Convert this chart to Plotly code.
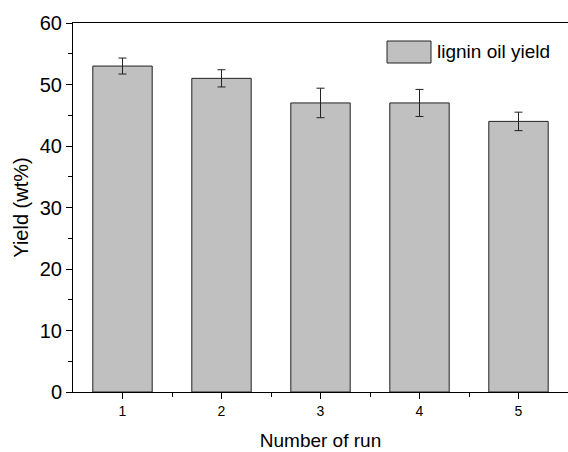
import plotly.graph_objects as go

runs = [1, 2, 3, 4, 5]
yields = [53.0, 51.0, 47.0, 47.0, 44.0]
errors = [1.3, 1.4, 2.4, 2.2, 1.5]
series_name = "lignin oil yield"
y_ticks = [0, 10, 20, 30, 40, 50, 60]

FONT = "Liberation Sans, Arial, sans-serif"

fig = go.Figure()
fig.add_trace(go.Bar(
    x=runs, y=yields, width=0.6,
    marker=dict(color="#c0c0c0", line=dict(color="#222222", width=1)),
    error_y=dict(type="data", array=errors, color="#222222", thickness=1, width=4),
    showlegend=False, name=series_name,
))

# legend swatch + label
fig.add_shape(type="rect", xref="paper", yref="paper",
              x0=(387 - 73) / 495, x1=(431 - 73) / 495,
              y0=(392 - 63) / 369, y1=(392 - 41) / 369,
              fillcolor="#c0c0c0", line=dict(color="#222222", width=1))
fig.add_annotation(xref="paper", yref="paper",
                   x=(435 - 73) / 495, y=(392 - 52) / 369,
                   text=series_name, showarrow=False, xanchor="left", yanchor="middle",
                   font=dict(family=FONT, size=19, color="#000000"))

fig.update_layout(
    width=568, height=452,
    margin=dict(l=73, r=0, t=23, b=60, autoexpand=False),
    paper_bgcolor="white", plot_bgcolor="white",
    font=dict(family=FONT, color="#000000"),
    bargap=0.4,
)
fig.update_xaxes(
    range=[0.5, 5.5], tickvals=runs, ticktext=[str(r) for r in runs],
    ticks="outside", ticklen=6, tickwidth=1, tickcolor="#000",
    minor=dict(tickvals=[1.5, 2.5, 3.5, 4.5], ticks="outside", ticklen=4, tickwidth=1, tickcolor="#000"),
    showline=True, linecolor="#000", linewidth=1, mirror=True,
    showgrid=False, zeroline=False, automargin=False,
    tickfont=dict(size=14, family=FONT),
    title=dict(text="Number of run", font=dict(size=19, family=FONT), standoff=15),
)
fig.update_yaxes(
    range=[0, 60], tickvals=y_ticks,
    ticks="outside", ticklen=6, tickwidth=1, tickcolor="#000",
    minor=dict(tickvals=[5, 15, 25, 35, 45, 55], ticks="outside", ticklen=4, tickwidth=1, tickcolor="#000"),
    showline=True, linecolor="#000", linewidth=1, mirror=False,
    showgrid=False, zeroline=False, automargin=False,
    tickfont=dict(size=20, family=FONT),
    title=dict(text="Yield (wt%)", font=dict(size=20, family=FONT), standoff=5),
)

fig.write_html("out.html", config={"displayModeBar": False})

# remove default body margin so the figure sits at the window origin
with open("out.html", "r", encoding="utf-8") as f:
    html = f.read()
html = html.replace("<body>", '<body style="margin:0;padding:0;overflow:hidden">', 1)
with open("out.html", "w", encoding="utf-8") as f:
    f.write(html)
